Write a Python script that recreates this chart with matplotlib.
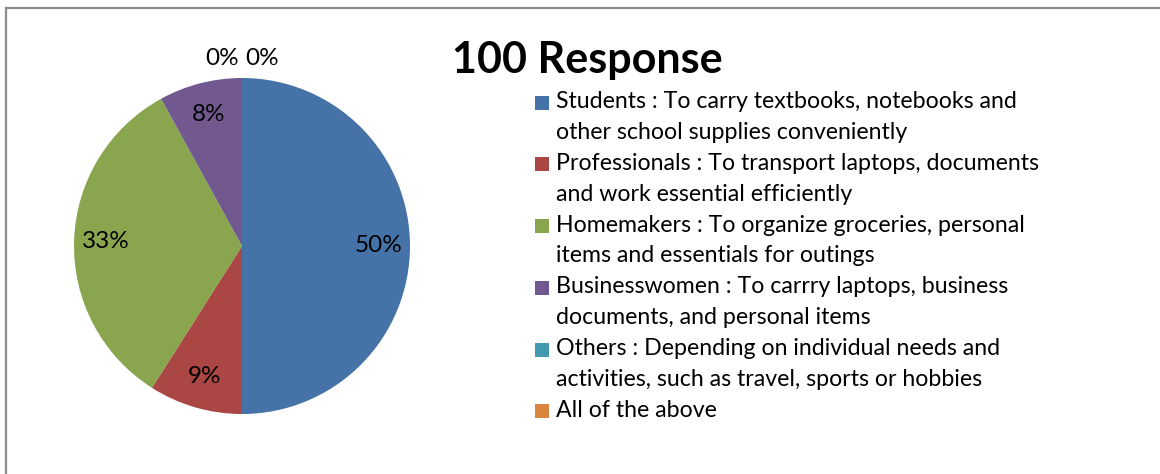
import matplotlib
matplotlib.use("Agg")
import matplotlib.pyplot as plt
from matplotlib.patches import Rectangle
from matplotlib.lines import Line2D
import numpy as np

title = "100 Response"
categories = [
    "Students : To carry textbooks, notebooks and\nother school supplies conveniently",
    "Professionals : To transport laptops, documents\nand work essential efficiently",
    "Homemakers : To organize groceries, personal\nitems and essentials for outings",
    "Businesswomen : To carrry laptops, business\ndocuments, and personal items",
    "Others : Depending on individual needs and\nactivities, such as travel, sports or hobbies",
    "All of the above",
]
values = [50, 9, 33, 8, 0, 0]
labels = ["50%", "9%", "33%", "8%", "0%", "0%"]
colors = ["#4572A7", "#AA4643", "#89A54E", "#71588F", "#4198AF", "#DB843D"]

W, H = 1160, 474
DPI = 100
plt.rcParams['font.family'] = ['Lato', 'DejaVu Sans']
fig = plt.figure(figsize=(W / DPI, H / DPI), dpi=DPI)
fig.patch.set_facecolor("white")

# border (top + left)
fig.add_artist(Line2D([5.5 / W, 1.0], [1 - 8 / H, 1 - 8 / H], transform=fig.transFigure, color="#8c8c8c", lw=1.6))
fig.add_artist(Line2D([5.5 / W, 5.5 / W], [1 - 8 / H, 0.0], transform=fig.transFigure, color="#8c8c8c", lw=1.6))

cx, cy, r = 242, 246, 168
ax = fig.add_axes([(cx - r) / W, (H - cy - r) / H, 2 * r / W, 2 * r / H])
wedges, _ = ax.pie(values, colors=colors, startangle=90, counterclock=False, radius=1.0,
                   wedgeprops=dict(linewidth=0))
ax.set_xlim(-1, 1)
ax.set_ylim(-1, 1)
ax.set_aspect("equal")
ax.axis("off")

zero_offsets = [-0.12, 0.12]
zi = 0
for w, lab, v in zip(wedges, labels, values):
    ang = np.deg2rad((w.theta1 + w.theta2) / 2)
    if v > 0:
        x, y = 0.81 * np.cos(ang), 0.81 * np.sin(ang)
    else:
        x, y = 1.14 * np.cos(ang) + zero_offsets[zi], 1.115 * np.sin(ang)
        zi += 1
    ax.text(x, y, lab, ha="center", va="center", fontsize=17.5, color="black", clip_on=False)

# title
fig.text(452 / W, 1 - 60 / H, title, fontsize=31, fontweight="bold", ha="left", va="center")

# legend
y0 = 101.5
step = 30.9
sq = 14
line_y = y0
for cat, col in zip(categories, colors):
    fig.add_artist(Rectangle((535 / W, 1 - (line_y + 1 + sq / 2) / H), sq / W, sq / H,
                             transform=fig.transFigure, facecolor=col, edgecolor="none"))
    lines = cat.split("\n")
    for ln in lines:
        fig.text(556 / W, 1 - line_y / H, ln, fontsize=16.7, ha="left", va="center")
        line_y += step

fig.savefig("out.png", dpi=DPI, facecolor="white")
